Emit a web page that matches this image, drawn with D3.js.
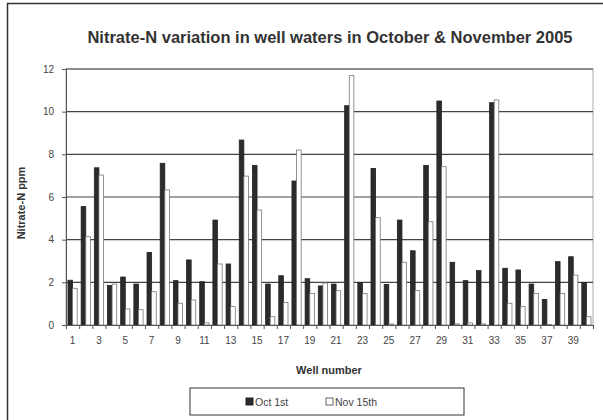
<!DOCTYPE html>
<html>
<head>
<meta charset="utf-8">
<script src="https://cdn.jsdelivr.net/npm/d3@7"></script>
<style>
  body { margin: 0; background: #fff; }
  svg { font-family: "Liberation Sans", Arial, sans-serif; }
  .axis text { fill: #444; font-size: 10px; }
  .axis path, .axis line { stroke: #555; }
</style>
</head>
<body>
<div id="chart"></div>
<script>
const wells = d3.range(1, 41);
const seriesNames = ['Oct 1st', 'Nov 15th'];
const oct1 = [2.1, 5.55, 7.37, 1.85, 2.25, 1.92, 3.4, 7.58, 2.08, 3.05,
  2.03, 4.92, 2.86, 8.67, 7.48, 1.92, 2.31, 6.75, 2.17, 1.83,
  1.92, 10.28, 1.98, 7.34, 1.9, 4.92, 3.48, 7.48, 10.5, 2.94,
  2.08, 2.55, 10.42, 2.66, 2.58, 1.92, 1.2, 2.97, 3.2, 1.98];
const nov15 = [1.72, 4.14, 7.03, 1.92, 0.75, 0.72, 1.56, 6.33, 1.02, 1.17,
  0.1, 2.86, 0.86, 6.98, 5.39, 0.39, 1.05, 8.2, 1.48, 1.97,
  1.61, 11.69, 1.48, 5.03, 0.05, 2.94, 1.61, 4.84, 7.42, 0.05,
  0.1, 0.05, 10.55, 1.02, 0.86, 1.48, 0.02, 1.48, 2.34, 0.39];
const yTicks = [0, 2, 4, 6, 8, 10, 12];
const xLabels = wells.filter(w => w % 2 === 1);

const W = 603, H = 420;
const margin = { top: 69, right: 10, bottom: 95, left: 66 };
const plotW = W - margin.left - margin.right;
const plotH = H - margin.top - margin.bottom;

const svg = d3.select('#chart').append('svg')
  .attr('width', W)
  .attr('height', H);

// outer frame
svg.append('path')
  .attr('d', `M7.5,${H} V3.5 H${W}`)
  .attr('fill', 'none')
  .attr('stroke', '#333')
  .attr('stroke-width', 1.5);

svg.append('text')
  .attr('x', 330)
  .attr('y', 43)
  .attr('text-anchor', 'middle')
  .attr('font-size', '16.5px')
  .attr('font-weight', 'bold')
  .attr('fill', '#333')
  .text('Nitrate-N variation in well waters in October & November 2005');

const g = svg.append('g')
  .attr('transform', `translate(${margin.left}, ${margin.top})`);

const x = d3.scaleBand().domain(wells).range([0, plotW]).paddingInner(0.3).paddingOuter(0.15);
const xs = d3.scaleBand().domain(seriesNames).range([0, x.bandwidth()]);
const xLin = d3.scaleLinear().domain([0.5, 40.5]).range([0, plotW]);
const y = d3.scaleLinear().domain([0, 12]).range([plotH, 0]);

// plot border
g.append('rect')
  .attr('x', 0).attr('y', 0)
  .attr('width', plotW).attr('height', plotH)
  .attr('fill', 'none')
  .attr('stroke', '#aaa');

// grid
g.selectAll('.grid')
  .data(yTicks.filter(d => d > 0))
  .enter().append('line')
  .attr('class', 'grid')
  .attr('x1', 0).attr('x2', plotW)
  .attr('y1', d => y(d)).attr('y2', d => y(d))
  .attr('stroke', '#444')
  .attr('stroke-width', 1.2);

const data = wells.map((w, i) => ({ well: w, values: [oct1[i], nov15[i]] }));

const groups = g.selectAll('.well')
  .data(data)
  .enter().append('g')
  .attr('transform', d => `translate(${x(d.well)}, 0)`);

groups.selectAll('rect')
  .data(d => d.values.map((v, j) => ({ name: seriesNames[j], value: v })))
  .enter().append('rect')
  .attr('x', d => xs(d.name))
  .attr('y', d => y(d.value))
  .attr('width', xs.bandwidth())
  .attr('height', d => plotH - y(d.value))
  .attr('fill', d => d.name === 'Oct 1st' ? '#2b2b2b' : '#fff')
  .attr('stroke', d => d.name === 'Oct 1st' ? '#222' : '#777')
  .attr('stroke-width', 0.8);

// axes
g.append('g')
  .attr('class', 'axis')
  .call(d3.axisLeft(y).tickValues(yTicks).tickSize(4).tickPadding(8))
  .call(a => a.select('.domain').attr('stroke', '#444'));

g.append('g')
  .attr('class', 'axis')
  .attr('transform', `translate(0, ${plotH})`)
  .call(d3.axisBottom(xLin).tickValues(d3.range(0.5, 41, 1)).tickSize(4).tickFormat(''))
  .call(a => a.select('.domain').attr('stroke', '#444'));

g.append('g')
  .attr('class', 'axis')
  .attr('transform', `translate(0, ${plotH})`)
  .call(d3.axisBottom(x).tickValues(xLabels).tickSize(0).tickPadding(12))
  .call(a => a.select('.domain').remove());

svg.append('text')
  .attr('transform', `translate(25, ${margin.top + plotH / 2 + 6}) rotate(-90)`)
  .attr('text-anchor', 'middle')
  .attr('font-size', '11px')
  .attr('font-weight', 'bold')
  .attr('fill', '#333')
  .text('Nitrate-N ppm');

svg.append('text')
  .attr('x', 329)
  .attr('y', 374)
  .attr('text-anchor', 'middle')
  .attr('font-size', '11px')
  .attr('font-weight', 'bold')
  .attr('fill', '#333')
  .text('Well number');

// legend
const legend = svg.append('g').attr('transform', 'translate(190, 388)');
legend.append('rect')
  .attr('width', 274).attr('height', 27)
  .attr('fill', '#fff')
  .attr('stroke', '#333');

const items = legend.selectAll('.item')
  .data(seriesNames)
  .enter().append('g')
  .attr('transform', (d, i) => `translate(${i === 0 ? 56 : 136}, 9)`);

items.append('rect')
  .attr('width', 7).attr('height', 7)
  .attr('y', 1)
  .attr('fill', (d, i) => i === 0 ? '#2b2b2b' : '#fff')
  .attr('stroke', (d, i) => i === 0 ? '#222' : '#666');

items.append('text')
  .attr('x', 9)
  .attr('y', 8.5)
  .attr('font-size', '10.5px')
  .attr('fill', '#444')
  .text(d => d);
</script>
</body>
</html>
